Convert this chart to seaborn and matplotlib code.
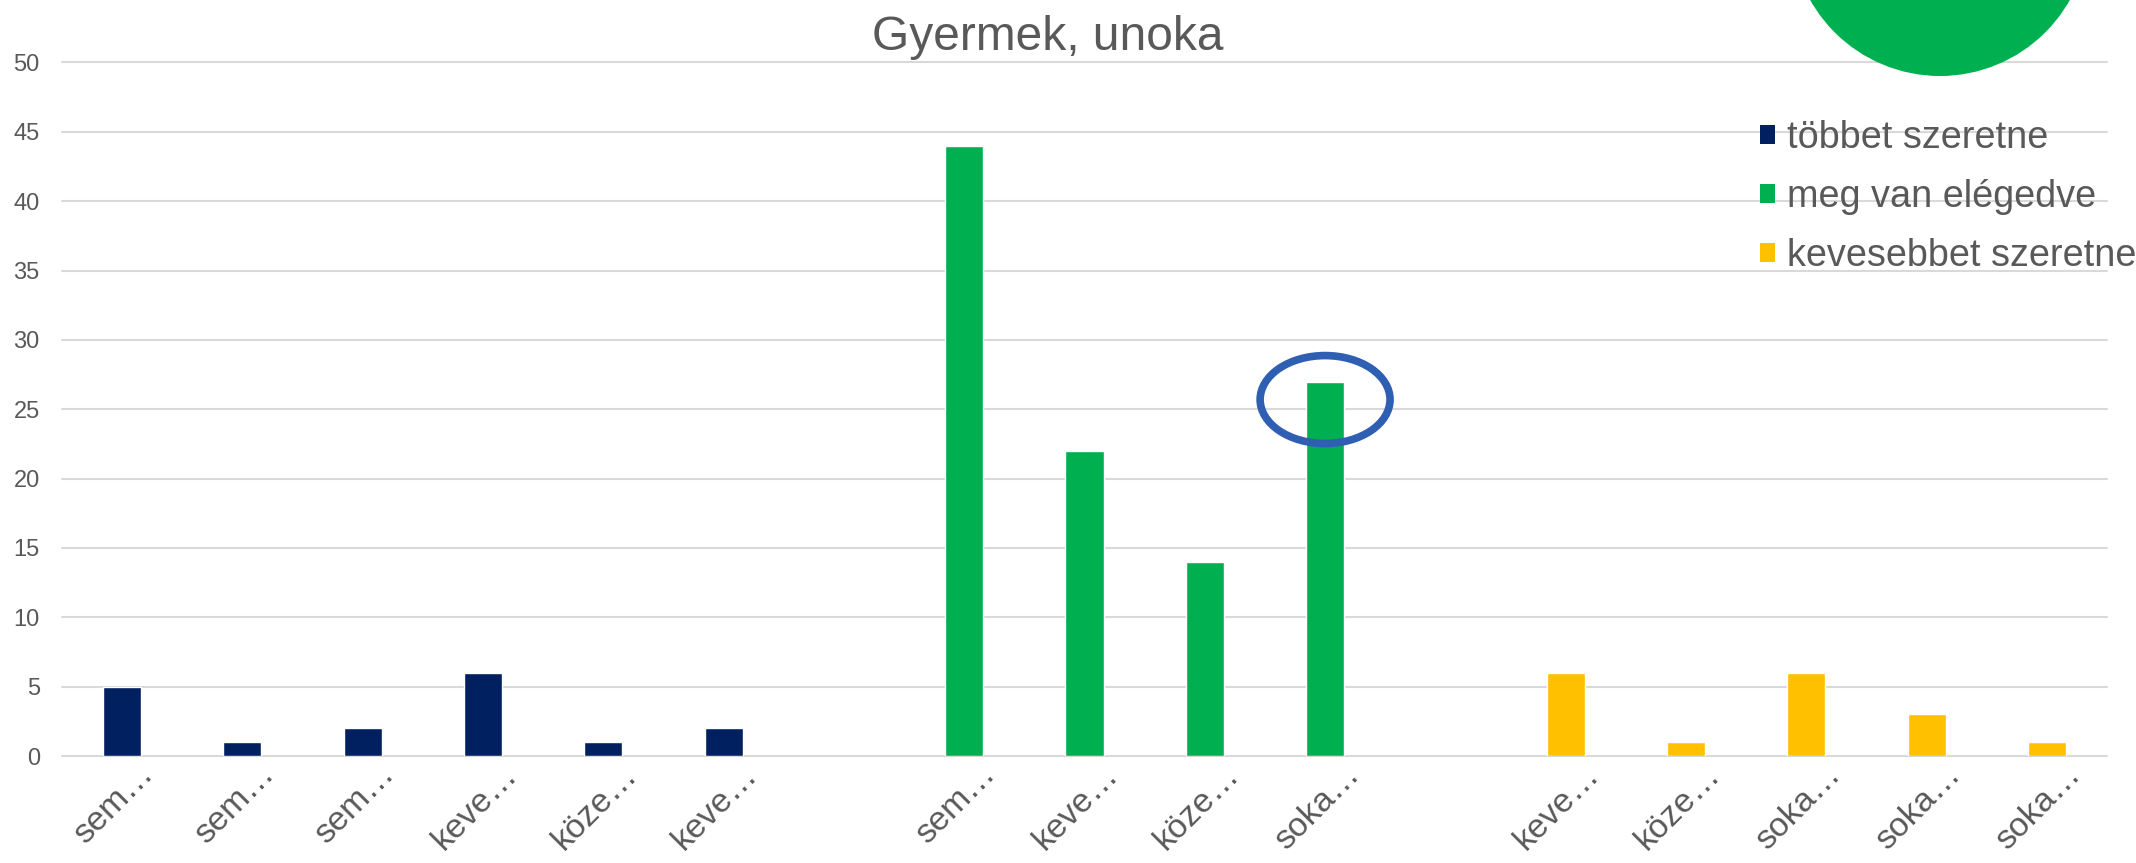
import numpy as np
import pandas as pd
import matplotlib
matplotlib.use("Agg")
import matplotlib.pyplot as plt
import matplotlib.transforms as mtransforms
from matplotlib.patches import Patch, Circle, Ellipse
import seaborn as sns

# ---- data ----
title = "Gyermek, unoka"
series_names = ["többet szeretne", "meg van elégedve", "kevesebbet szeretne"]
series_colors = ["#002060", "#00B050", "#FFC000"]

tick_labels = ["sem…", "sem…", "sem…", "keve…", "köze…", "keve…", "",
               "sem…", "keve…", "köze…", "soka…", "",
               "keve…", "köze…", "soka…", "soka…", "soka…"]

tobbet_pos = [0, 1, 2, 3, 4, 5]
tobbet_vals = [5, 1, 2, 6, 1, 2]
meg_pos = [7, 8, 9, 10]
meg_vals = [44, 22, 14, 27]
keves_pos = [12, 13, 14, 15, 16]
keves_vals = [6, 1, 6, 3, 1]

y_ticks = [0, 5, 10, 15, 20, 25, 30, 35, 40, 45, 50]

# ---- build frame ----
cat_ids = [f"c{i}" for i in range(len(tick_labels))]
rows = []
for name, pos, vals in [(series_names[0], tobbet_pos, tobbet_vals),
                        (series_names[1], meg_pos, meg_vals),
                        (series_names[2], keves_pos, keves_vals)]:
    for p, v in zip(pos, vals):
        rows.append({"cat": cat_ids[p], "val": v, "series": name})
df = pd.DataFrame(rows)

sns.set_theme(style="white")
plt.rcParams["font.family"] = ["Liberation Sans", "DejaVu Sans"]
text_color = "#595959"

W, H = 2136, 863
fig = plt.figure(figsize=(W / 100, H / 100), dpi=100)
ax = fig.add_axes([62 / W, 1 - 756 / H, (2107 - 62) / W, (756 - 62.5) / H])

sns.barplot(data=df, x="cat", y="val", hue="series", order=cat_ids,
            hue_order=series_names, palette=series_colors, dodge=False,
            width=0.316, saturation=1, legend=False, ax=ax, zorder=2)

ax.set_xlim(-0.5, len(cat_ids) - 0.5)
ax.set_ylim(0, 50)
ax.set_yticks(y_ticks)
ax.set_yticklabels([str(t) for t in y_ticks], fontsize=17, color=text_color)
ax.set_xticks(range(len(cat_ids)))
ax.set_xticklabels(tick_labels, rotation=45, ha="center", fontsize=24.5,
                   color=text_color)
ax.tick_params(axis="both", length=0)
ax.tick_params(axis="y", pad=16)
ax.tick_params(axis="x", pad=2)
shift = mtransforms.ScaledTranslation(-8 / 100, 0, fig.dpi_scale_trans)
for lbl in ax.get_xticklabels():
    lbl.set_transform(lbl.get_transform() + shift)
ax.set_xlabel("")
ax.set_ylabel("")
for s in ax.spines.values():
    s.set_visible(False)
ax.yaxis.grid(True, color="#D9D9D9", linewidth=1.5)
ax.xaxis.grid(False)
ax.set_axisbelow(True)
for gl in ax.get_ygridlines():
    gl.set_clip_on(False)

# highlight ellipse around the 27 bar
ax.add_patch(Ellipse((10, 25.7), 1.08, 6.34, fill=False, edgecolor="#2F5FB3",
                     linewidth=5.5, zorder=5, clip_on=False))

# title
fig.text(1048 / W, 1 - 50 / H, title, ha="center", va="baseline",
         fontsize=34.5, color=text_color)

# decorative green circle at top right
fig.add_artist(Circle((1940, H + 73), 149, transform=None,
                      facecolor="#00B050", edgecolor="none", zorder=10))

# legend
handles = [Patch(facecolor=c, edgecolor="none", label=n)
           for n, c in zip(series_names, series_colors)]
leg = fig.legend(handles=handles, loc="upper left",
                 bbox_to_anchor=(1760 / W, 1 - 120 / H), frameon=False,
                 fontsize=27.3, handlelength=0.4, handleheight=0.4,
                 handletextpad=0.3, labelspacing=0.61, borderpad=0,
                 borderaxespad=0, labelcolor=text_color)

fig.savefig("out.png", dpi=100)
